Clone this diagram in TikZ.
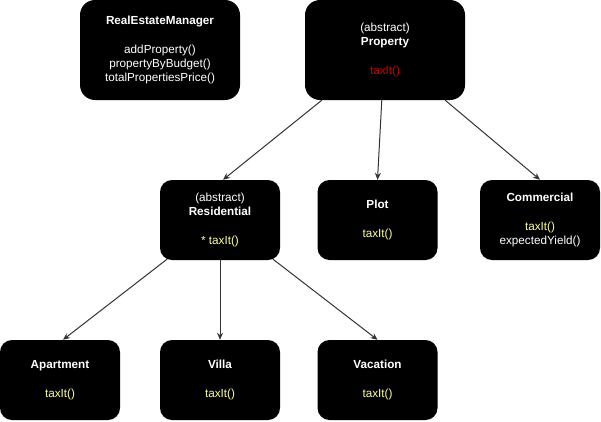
\documentclass[tikz,border=0pt]{standalone}
\usepackage{fontspec}
\setmainfont{Liberation Sans}
\usepackage{xcolor}
\usetikzlibrary{arrows.meta,calc}
\definecolor{taxred}{HTML}{CC0000}
\definecolor{taxyellow}{HTML}{FFFF99}
\tikzset{
  cls/.style={rectangle, rounded corners=12pt, fill=black, text=white, align=center,
              minimum width=120pt, minimum height=80pt, inner sep=2pt,
              font=\fontsize{11.7}{14.4}\selectfont},
  bigcls/.style={cls, minimum width=160pt, minimum height=100pt, rounded corners=15pt},
  arr/.style={-{Stealth[length=7pt,width=6pt]}, line width=1pt, black!80},
}
\begin{document}
\begin{tikzpicture}[x=1pt, y=-1pt]
\useasboundingbox (0,0) rectangle (601,421);
% top row
\node[bigcls] (manager) at (160,50) {\textbf{RealEstateManager}\\[14.4pt]addProperty()\\propertyByBudget()\\totalPropertiesPrice()};
\node[bigcls] (property) at (385,50) {(abstract)\\\textbf{Property}\\[14.4pt]\textcolor{taxred}{taxIt()}};
% middle row
\node[cls] (residential) at (220,220) {(abstract)\\\textbf{Residential}\\[14.4pt]\textcolor{taxyellow}{* taxIt()}};
\node[cls] (plot) at (377.5,220) {\textbf{Plot}\\[14.4pt]\textcolor{taxyellow}{taxIt()}};
\node[cls] (commercial) at (540,220) {\textbf{Commercial}\\[14.4pt]\textcolor{taxyellow}{taxIt()}\\expectedYield()};
% bottom row
\node[cls] (apartment) at (60,380) {\textbf{Apartment}\\[14.4pt]\textcolor{taxyellow}{taxIt()}};
\node[cls] (villa) at (220,380) {\textbf{Villa}\\[14.4pt]\textcolor{taxyellow}{taxIt()}};
\node[cls] (vacation) at (377.5,380) {\textbf{Vacation}\\[14.4pt]\textcolor{taxyellow}{taxIt()}};
% inheritance arrows
\draw[arr] ($(property.south west)!0.106!(property.south east)$) -- ($(residential.north)+(3,0)$);
\draw[arr] ($(property.south west)!0.48!(property.south east)$) -- (plot.north);
\draw[arr] ($(property.south west)!0.875!(property.south east)$) -- (commercial.north);
\draw[arr] ($(residential.south west)!0.06!(residential.south east)+(0,-1)$) -- ($(apartment.north)+(3,0)$);
\draw[arr] (residential.south) -- (villa.north);
\draw[arr] ($(residential.south west)!0.94!(residential.south east)+(0,-1)$) -- (vacation.north);
\end{tikzpicture}
\end{document}
